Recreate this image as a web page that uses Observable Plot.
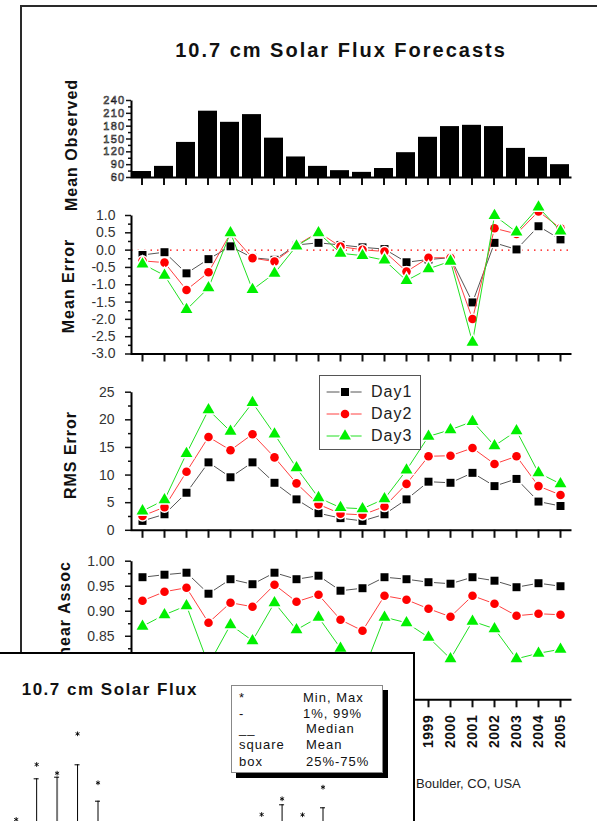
<!DOCTYPE html>
<html>
<head>
<meta charset="utf-8">
<script src="https://cdn.jsdelivr.net/npm/d3@7"></script>
<script src="https://cdn.jsdelivr.net/npm/@observablehq/plot@0.6"></script>
<style>
html,body{margin:0;padding:0;background:#fff;}
body{width:597px;height:821px;overflow:hidden;font-family:"Liberation Sans",Arial,Helvetica,sans-serif;}
#page{position:relative;width:597px;height:821px;overflow:hidden;background:#fff;}
.abs{position:absolute;white-space:nowrap;color:#111;}
.vt{position:absolute;white-space:nowrap;transform:translate(-50%,-50%) rotate(-90deg);font-weight:bold;font-size:16px;letter-spacing:1px;color:#111;line-height:16px;}
.p1 g[aria-label="y-axis tick label"]{fill:#fff;stroke:#111;stroke-width:0.6px;font-size:11px;letter-spacing:1.3px;}
.pl g[aria-label="y-axis tick label"]{fill:#333;}
.p4 g[aria-label="x-axis tick label"]{font-weight:bold;font-size:14px;letter-spacing:0.5px;fill:#111;}
</style>
</head>
<body>
<div id="page"></div>
<script>
// ---------------- data ----------------
const years = [1986,1987,1988,1989,1990,1991,1992,1993,1994,1995,1996,1997,1998,1999,2000,2001,2002,2003,2004,2005];
const seriesNames = ["Day1","Day2","Day3"];

const meanObserved = [74,86,142,215,189,207,152,108,86,76,72,81,118,154,179,182,179,128,107,90];

const meanErrorDay1 = [-0.14,-0.06,-0.67,-0.26,0.11,-0.22,-0.28,0.15,0.21,0.15,0.08,0.03,-0.35,-0.27,-0.22,-1.51,0.21,0.02,0.69,0.31];
const meanErrorDay2 = [-0.31,-0.36,-1.15,-0.64,0.49,-0.23,-0.33,0.14,0.52,0.10,0.01,-0.04,-0.62,-0.22,-0.22,-1.99,0.63,0.47,1.12,0.63];
const meanErrorDay3 = [-0.40,-0.73,-1.72,-1.09,0.50,-1.14,-0.67,0.12,0.50,-0.09,-0.16,-0.29,-0.88,-0.54,-0.32,-2.66,1.00,0.52,1.24,0.55];

const rmsErrorDay1 = [1.7,2.9,6.8,12.3,9.6,12.3,8.6,5.6,3.1,2.2,1.7,2.9,5.6,8.8,8.6,10.4,8.0,9.3,5.2,4.4];
const rmsErrorDay2 = [2.6,4.2,10.6,16.9,14.5,17.4,13.2,8.5,4.7,3.0,2.8,4.3,8.4,13.4,13.5,14.9,12.0,13.4,8.0,6.4];
const rmsErrorDay3 = [3.5,5.5,13.9,21.8,17.9,23.1,17.4,11.3,5.9,4.1,3.9,5.7,10.9,17.0,18.2,19.7,15.3,18.0,10.4,8.4];

const linAssocDay1 = [0.968,0.973,0.977,0.935,0.964,0.954,0.977,0.964,0.971,0.941,0.946,0.968,0.964,0.958,0.955,0.968,0.961,0.948,0.956,0.950];
const linAssocDay2 = [0.921,0.939,0.947,0.877,0.917,0.909,0.953,0.919,0.933,0.883,0.861,0.931,0.923,0.905,0.889,0.931,0.915,0.891,0.895,0.893];
const linAssocDay3 = [0.870,0.893,0.911,0.793,0.873,0.841,0.917,0.863,0.888,0.826,0.775,0.888,0.877,0.848,0.805,0.880,0.865,0.805,0.816,0.824];

// tick labels
const obsTicks = [60,90,120,150,180,210,240];
const obsMinorTicks = [75,105,135,165,195,225];
const errTicks = [-3.0,-2.5,-2.0,-1.5,-1.0,-0.5,0.0,0.5,1.0];
const errMinorTicks = [-2.75,-2.25,-1.75,-1.25,-0.75,-0.25,0.25,0.75];
const rmsTicks = [0,5,10,15,20,25];
const rmsMinorTicks = [2.5,7.5,12.5,17.5,22.5];
const laTicks = [0.85,0.90,0.95,1.00];          // labels visible above the inset window
const laMinorTicks = [0.825,0.875,0.925,0.975];
const yearTickLabels = [1999,2000,2001,2002,2003,2004,2005]; // the rest lie under the inset window

// inset (partially visible box-plot chart)
const insetYears = [1986,1987,1988,1989,1990,1998,1999,2000,2001];
const insetMax   = [118,228,210.6,289.4,191.4,128,159.4,127.4,182.6];
const insetP99   = [null,199.4,202.6,227.4,154.6,null,147.4,null,141.4];
const insetGrayYears = [1988];
const insetLegendKeys = ["*","-","__","square","box"];
const insetLegendLabels = ["Min, Max","1%, 99%","Median","Mean","25%-75%"];

// texts
const chartTitle = "10.7 cm Solar Flux Forecasts";
const panelTitles = ["Mean Observed","Mean Error","RMS Error","Linear Assoc"];
const insetTitle = "10.7 cm Solar Flux";
const captionText = "Boulder, CO, USA";

// ---------------- layout helpers ----------------
const page = document.getElementById("page");
const FONT = '"Liberation Sans", Arial, Helvetica, sans-serif';
function addDiv(text, css, cls) {
  const d = document.createElement("div");
  d.className = cls || "abs";
  d.textContent = text;
  Object.assign(d.style, css);
  page.appendChild(d);
  return d;
}

const PAGE_W = 597, AX_L = 131, AX_R = 571;

function panel({cls, svgTop, svgHeight, plotTop, plotBottom, x, y, marks}) {
  const mt = plotTop - svgTop, mb = svgTop + svgHeight - plotBottom;
  const w = AX_R - AX_L, h = plotBottom - plotTop;
  const svg = Plot.plot({
    width: PAGE_W, height: svgHeight,
    marginLeft: AX_L, marginRight: PAGE_W - AX_R, marginTop: mt, marginBottom: mb,
    x, y,
    style: {position: "absolute", left: "0px", top: svgTop + "px", background: "transparent",
            overflow: "visible", fontFamily: FONT, fontSize: "14px", color: "#111"},
    marks: [
      ...marks,
      Plot.frame({stroke: "#000", strokeWidth: 2, strokeDasharray: `0 ${w + h} ${w + h}`})
    ]
  });
  cls.split(" ").forEach(c => svg.classList.add(c));
  page.appendChild(svg);
  return svg;
}

const seriesStyle = [
  {line: "#555555", fill: "#000000", symbol: "square", r: 4.5},
  {line: "#ff4040", fill: "#ff0000", symbol: "circle", r: 4.3},
  {line: "#22e022", fill: "#00f000", symbol: "triangle", r: 4.4}
];
function seriesMarks(arrays) {
  const out = [];
  arrays.forEach((arr, k) => {
    const data = years.map((yr, i) => ({year: yr, v: arr[i], series: seriesNames[k]}));
    const s = seriesStyle[k];
    out.push(Plot.line(data, {x: "year", y: "v", stroke: s.line, strokeWidth: 1}));
    out.push(Plot.dot(data, {x: "year", y: "v", symbol: s.symbol, r: s.r, fill: s.fill,
                             stroke: "#fff", strokeWidth: 3, paintOrder: "stroke"}));
  });
  return out;
}
function yAxes(major, minor, fmt, tickSize, tickPadding) {
  return [
    Plot.axisY({ticks: major, tickSize, tickPadding, tickFormat: fmt, strokeWidth: 1.5, label: null}),
    Plot.axisY({ticks: minor, tickSize: 3, tickFormat: () => "", strokeWidth: 1.5, label: null})
  ];
}
const xPoint = {type: "point", domain: years, padding: 0.5};

// ---------------- outer frame & title ----------------
addDiv("", {left: "20px", top: "5px", width: "660px", height: "900px",
            border: "2px solid #2a2a2a", boxSizing: "border-box"});
addDiv(chartTitle, {left: "341px", top: "40px", transform: "translateX(-50%)", fontSize: "20px",
                    fontWeight: "bold", letterSpacing: "2px", lineHeight: "20px"});

// ---------------- panel 1: Mean Observed ----------------
panel({
  cls: "p1", svgTop: 88, svgHeight: 100, plotTop: 100, plotBottom: 177,
  x: {type: "band", domain: years, paddingInner: 0.136, paddingOuter: 0.068},
  y: {domain: [60, 240], clamp: true},
  marks: [
    Plot.barY(years.map((yr, i) => ({year: yr, v: meanObserved[i]})), {x: "year", y: "v", fill: "#000"}),
    Plot.axisX({tickSize: 8, strokeWidth: 2, tickFormat: () => "", label: null}),
    ...yAxes(obsTicks, obsMinorTicks, d => String(d), 5, 1)
  ]
});

// ---------------- panel 2: Mean Error ----------------
panel({
  cls: "pl", svgTop: 195, svgHeight: 170, plotTop: 215, plotBottom: 353.5,
  x: xPoint, y: {domain: [-3, 1]},
  marks: [
    Plot.ruleY([0], {stroke: "#ff0000", strokeWidth: 1.2, strokeDasharray: "1.5 5"}),
    ...seriesMarks([meanErrorDay1, meanErrorDay2, meanErrorDay3]),
    Plot.axisX({tickSize: 8, strokeWidth: 2, tickFormat: () => "", label: null}),
    ...yAxes(errTicks, errMinorTicks, d => d.toFixed(1), 6, 10)
  ]
});

// ---------------- panel 3: RMS Error ----------------
panel({
  cls: "pl", svgTop: 375, svgHeight: 166, plotTop: 391.7, plotBottom: 529.8,
  x: xPoint, y: {domain: [0, 25]},
  marks: [
    ...seriesMarks([rmsErrorDay1, rmsErrorDay2, rmsErrorDay3]),
    Plot.axisX({tickSize: 8, strokeWidth: 2, tickFormat: () => "", label: null}),
    ...yAxes(rmsTicks, rmsMinorTicks, d => String(d), 6, 11)
  ]
});

// ---------------- panel 4: Linear Assoc ----------------
panel({
  cls: "pl p4", svgTop: 545, svgHeight: 215, plotTop: 560.7, plotBottom: 699.3,
  x: xPoint, y: {domain: [0.723, 1.0]},
  marks: [
    ...seriesMarks([linAssocDay1, linAssocDay2, linAssocDay3]),
    Plot.axisX({tickSize: 8, strokeWidth: 2, tickRotate: -90, tickPadding: 7,
                tickFormat: d => yearTickLabels.includes(d) ? String(d) : "", label: null}),
    ...yAxes(laTicks, laMinorTicks, d => d.toFixed(2), 6, 11)
  ]
});

// ---------------- panel titles ----------------
const titlePos = [[72, 145], [68.5, 286], [70.5, 455], [65, 617]];
panelTitles.forEach((t, i) => addDiv(t, {left: titlePos[i][0] + "px", top: titlePos[i][1] + "px"}, "vt"));

// ---------------- legend (panel 3) ----------------
addDiv("", {left: "319px", top: "375px", width: "102px", height: "75px", border: "1px solid #555",
            background: "#fff", boxSizing: "border-box"});
const legendRowsY = [391.7, 414, 436.3];
seriesNames.forEach((name, k) => {
  const s = seriesStyle[k];
  const cy = legendRowsY[k];
  const svg = d3.create("svg").attr("width", 42).attr("height", 20)
    .style("position", "absolute").style("left", "324px").style("top", (cy - 10) + "px");
  svg.append("line").attr("x1", 2.6).attr("x2", 37.6).attr("y1", 10).attr("y2", 10)
    .attr("stroke", s.line).attr("stroke-width", 1);
  const sym = {square: d3.symbolSquare, circle: d3.symbolCircle, triangle: d3.symbolTriangle}[s.symbol];
  svg.append("path").attr("transform", "translate(21,10)")
    .attr("d", d3.symbol(sym, Math.PI * s.r * s.r)())
    .attr("fill", s.fill).attr("stroke", "#fff").attr("stroke-width", 3).attr("paint-order", "stroke");
  page.appendChild(svg.node());
  addDiv(name, {left: "371px", top: (cy - 9) + "px", fontSize: "16px", lineHeight: "18px",
                letterSpacing: "1px", color: "#222"});
});

// ---------------- caption ----------------
addDiv(captionText, {left: "416px", top: "777px", fontSize: "13px", lineHeight: "13px", color: "#222"});

// ---------------- inset window ----------------
addDiv("", {left: "-10px", top: "652px", width: "425px", height: "200px", border: "2px solid #000",
            background: "#fff", boxSizing: "border-box"});
const insetData = insetYears.map((yr, i) => ({year: yr, max: insetMax[i], p99: insetP99[i]}));
const whisk = insetData.filter(d => d.p99 != null);
const insetSvg = Plot.plot({
  width: 414, height: 168, marginLeft: 15.7, marginRight: 91.5, marginTop: 0, marginBottom: 0,
  x: {type: "linear", domain: [1986, 2001], axis: null},
  y: {type: "linear", domain: [114, 450], axis: null},
  style: {position: "absolute", left: "0px", top: "653px", background: "transparent", overflow: "hidden"},
  marks: [
    Plot.ruleX(whisk.filter(d => !insetGrayYears.includes(d.year)), {x: "year", y1: "p99", y2: 114, stroke: "#000", strokeWidth: 1}),
    Plot.ruleX(whisk.filter(d => insetGrayYears.includes(d.year)), {x: "year", y1: "p99", y2: 114, stroke: "#777", strokeWidth: 2}),
    Plot.ruleY(whisk, {y: "p99", x1: "year", x2: "year", insetLeft: -2.5, insetRight: -2.5, stroke: "#000", strokeWidth: 1}),
    Plot.dot(insetData, {x: "year", y: "max", symbol: "asterisk", r: 2.2, stroke: "#000", strokeWidth: 0.9})
  ]
});
page.appendChild(insetSvg);
addDiv(insetTitle, {left: "21.7px", top: "681px", fontSize: "17px", fontWeight: "bold",
                    letterSpacing: "1.5px", lineHeight: "17px"});
addDiv("", {left: "230.7px", top: "685px", width: "152px", height: "88px", border: "1px solid #888",
            background: "#fff", boxSizing: "border-box", boxShadow: "5px 5px 0 #000"});
const legBase = [701.7, 717.7, 733, 749.3, 765.7];
const legRightX = [303, 303, 306, 306, 306];
insetLegendKeys.forEach((k, i) => {
  addDiv(k, {left: "239px", top: (legBase[i] - 11) + "px", fontSize: "13px", lineHeight: "13px", letterSpacing: "1px"});
  addDiv(insetLegendLabels[i], {left: legRightX[i] + "px", top: (legBase[i] - 11) + "px", fontSize: "13px",
                                lineHeight: "13px", letterSpacing: "1px"});
});
</script>
</body>
</html>
